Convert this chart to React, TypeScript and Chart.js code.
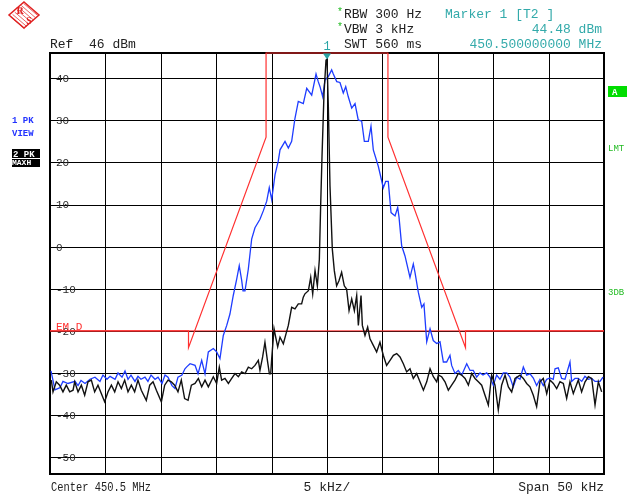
import { useEffect, useRef } from "react";
import { Chart, registerables } from "chart.js";

Chart.register(...registerables);

// Frequency offsets from centre (kHz), levels in dBm
const blueFreq = [
  -24.91, -24.55, -24.1, -23.83, -23.38, -22.74, -22.47, -22.2, -21.84, -21.39, -20.94, -20.49, -20.22, -19.86,
  -19.58, -19.13, -18.86, -18.5, -18.23, -17.96, -17.69, -17.33, -17.06, -16.79, -16.43, -16.16, -15.88, -15.52,
  -15.25, -14.89, -14.62, -14.35, -13.99, -13.72, -13.45, -13.09, -12.82, -12.64, -12.36, -11.91, -11.64, -11.31,
  -11.01, -10.71, -10.26, -9.96, -9.66, -9.36, -9.05, -8.76, -8.46, -8.15, -7.92, -7.7, -7.58, -7.4, -7.1, -6.8,
  -6.5, -6.05, -5.75, -5.44, -5.21, -4.99, -4.69, -4.4, -4.24, -3.79, -3.49, -3.19, -2.89, -2.59, -2.14, -1.83,
  -1.38, -0.99, -0.79, -0.63, -0.39, -0.18, 0.12, 0.42, 0.57, 0.88, 1.17, 1.47, 1.69, 1.92, 2.23, 2.53, 2.82, 3.13,
  3.37, 3.73, 3.97, 4.18, 4.63, 5.08, 5.3, 5.53, 5.78, 6.14, 6.38, 6.5, 6.74, 7.04, 7.49, 7.79, 7.94, 8.24, 8.55,
  8.75, 9.0, 9.3, 9.59, 9.9, 10.2, 10.5, 10.8, 11.1, 11.25, 11.55, 11.85, 12.16, 12.61, 12.91, 13.2, 13.51, 13.81,
  14.08, 14.41, 14.71, 15.01, 15.31, 15.61, 15.91, 16.22, 16.51, 16.81, 17.12, 17.42, 17.72, 18.02, 18.32, 18.62,
  18.92, 19.22, 19.52, 19.83, 20.13, 20.42, 20.58, 20.87, 21.18, 21.48, 21.93, 22.08, 22.38, 22.68, 22.99, 23.28,
  23.58, 23.89, 24.19, 24.64, 24.91,
];
const blueLevel = [
  -29.5, -34, -33.5, -32, -32.5, -32, -33, -31.8, -32.5, -31.5, -31, -32, -30.5, -31.5,
  -30.8, -31.5, -30, -31, -29.5, -31.5, -30.5, -32, -30.8, -31.5, -31, -32, -30.5, -31.5,
  -31, -32.5, -30.5, -31, -33, -33.7, -31, -30.5, -29, -28.5, -27.8, -28.2, -30.2, -27,
  -30.2, -25, -24.2, -25, -26.6, -21.1, -18.7, -16, -11.6, -7.7, -4.5, -8, -10.5, -10.5, -5.3, 1.8,
  4.5, 6.5, 8.5, 10.8, 14, 11.2, 17.1, 20.3, 23, 25, 23.4, 25, 30.5, 34.5, 34, 37.6,
  36, 41, 39.2, 38, 35.6, 39.6, 40.4, 42, 41, 39.2, 39, 36.5, 38, 35.6, 32.9, 34, 30.1, 29.8,
  25, 25, 28.6, 23, 19.1, 14, 15.5, 15.5, 8.1, 7.3, 9.3, 7, 0.2, -2.2, -7.3, -4.1, -6.1, -10.8, -14.4,
  -13.6, -22.6, -19.5, -22.3, -23, -22.6, -27.4, -27.4, -25.8, -28.2, -30.1, -29.4, -30.5, -27.8, -29.4, -29.4, -31, -30,
  -30.5, -30, -31, -32.9, -30.5, -31.5, -30, -30, -31, -33.3, -31, -31.5, -28.6, -30.5, -30.2, -31.2,
  -33, -31.5, -33, -31.5, -31.2, -31.5, -29, -28.8, -31.3, -31.5, -27.4, -32, -31.3, -31.3, -32, -30.8,
  -31.5, -31.3, -32, -32, -31,
];

const blackFreq = [
  -24.88, -24.73, -24.43, -24.13, -23.83, -23.53, -23.22, -22.92, -22.77, -22.47, -22.17, -21.87, -21.57, -21.27,
  -20.97, -20.67, -20.37, -20.07, -19.77, -19.46, -19.16, -18.86, -18.56, -18.26, -17.96, -17.66, -17.36, -17.06,
  -16.76, -16.31, -16.0, -15.7, -15.4, -14.95, -14.65, -14.35, -14.05, -13.75, -13.45, -13.15, -12.85, -12.54,
  -12.24, -11.91, -11.61, -11.31, -11.01, -10.71, -10.26, -9.96, -9.72, -9.51, -9.21, -8.9, -8.6, -8.3, -8.0,
  -7.7, -7.4, -7.1, -6.8, -6.5, -6.2, -6.05, -5.81, -5.6, -5.38, -5.2, -5.08, -4.99, -4.78, -4.6, -4.45, -4.24,
  -3.94, -3.7, -3.49, -3.19, -2.89, -2.59, -2.29, -2.14, -1.99, -1.68, -1.47, -1.29, -1.08, -0.87, -0.69, -0.57,
  -0.45, -0.27, -0.09, 0, 0.12, 0.27, 0.48, 0.66, 0.87, 1.08, 1.32, 1.56, 1.77, 1.99, 2.23, 2.47, 2.68, 2.83,
  3.07, 3.19, 3.43, 3.67, 3.88, 4.18, 4.48, 4.78, 5.08, 5.38, 5.69, 5.99, 6.29, 6.59, 6.89, 7.19, 7.49, 7.79,
  8.09, 8.39, 8.7, 9.0, 9.3, 9.6, 9.9, 10.05, 10.35, 10.65, 10.95, 11.25, 11.55, 11.85, 12.15, 12.46, 12.76,
  13.06, 13.36, 13.66, 13.96, 14.26, 14.56, 14.86, 15.16, 15.46, 15.76, 16.07, 16.37, 16.67, 16.97, 17.42,
  17.72, 18.02, 18.32, 18.62, 18.92, 19.22, 19.52, 19.83, 20.13, 20.43, 20.73, 21.03, 21.33, 21.63, 21.93,
  22.23, 22.68, 22.98, 23.29, 23.59, 23.89, 24.19, 24.49, 24.79,
];
const blackLevel = [
  -31.7, -34.5, -32.1, -32.9, -34.5, -32.9, -34.5, -34.1, -32.1, -34.5, -32.9, -35.3, -32.1, -31.7,
  -34.5, -32.9, -34.9, -36.85, -34.5, -32.9, -34.5, -32.1, -33.7, -31.7, -34.5, -32.9, -34.5, -31.7,
  -34.1, -36.5, -32.9, -32.1, -34.1, -36.85, -32.9, -31.7, -32.1, -32.9, -34.5, -31.7, -36.1, -36.5,
  -32.9, -32.5, -31.3, -33.3, -31.7, -33.3, -30.9, -32.5, -28.6, -31.7, -31.3, -32.5, -31.3, -30.15, -30.9,
  -29.75, -30.15, -28.6, -29.0, -28.2, -27.0, -29.4, -26.2, -22.7, -27.0, -30.2, -30.2, -26.6, -19.5, -21.9, -23.8, -21.5,
  -23.05, -20.7, -18.7, -14.4, -14.8, -13.6, -13.6, -12.0, -11.2, -10.45, -7.3, -11.2, -5.7, -9.3, -3.0, 10.0,
  21.5, 36.4, 44.3, 44.48, 33.3, 14.4, -0.6, -5.7, -9.3, -8.1, -6.1, -9.3, -10.05, -15.2, -12.4, -15.2, -11.6, -18.7,
  -11.6, -18.7, -21.1, -19.1, -21.9, -23.45, -25.0, -22.7, -25.8, -28.2, -27.0, -25.8, -25.4, -26.2, -27.8, -29.75, -29.0, -31.3,
  -30.15, -32.1, -34.1, -32.1, -29.0, -30.9, -32.1, -30.5, -30.9, -32.1, -34.1, -32.9, -31.7, -30.1, -30.5, -31.3, -32.9,
  -30.1, -31.3, -32.1, -32.9, -35.3, -37.6, -30.5, -32.9, -38.8, -32.9, -30.5, -33.3, -34.5, -31.3, -30.5,
  -31.3, -32.5, -33.3, -35.3, -38.0, -32.1, -31.3, -34.9, -31.7, -32.5, -33.7, -32.1, -32.5, -36.05, -32.1,
  -34.9, -31.7, -34.5, -32.1, -30.9, -31.3, -37.6, -32.1, -34.5,
];

const limitFreq = [-25, -12.5, -12.5, -5.5, -5.5, 5.5, 5.5, 12.5, 12.5, 25];
const limitLevel = [-20, -20, -24, 26, 46, 46, 26, -24, -20, -20];
const displayLine = -20;

const yTicks = [40, 30, 20, 10, 0, -10, -20, -30, -40, -50];
const xGrid = [-20, -15, -10, -5, 0, 5, 10, 15, 20];
const markerFreq = 0;
const markerLevel = 44.48;

const MONO = "'Liberation Mono', 'DejaVu Sans Mono', monospace";

export default function App() {
  const ref = useRef<HTMLCanvasElement | null>(null);

  useEffect(() => {
    document.body.style.margin = "0";
    const canvas = ref.current;
    if (!canvas) return;

    const gridPlugin = {
      id: "grid",
      beforeDatasetsDraw(chart: any) {
        const { ctx, chartArea: a, scales } = chart;
        ctx.save();
        ctx.strokeStyle = "#000";
        ctx.lineWidth = 1;
        xGrid.forEach((v) => {
          const x = Math.round(scales.x.getPixelForValue(v)) + 0.5;
          ctx.beginPath();
          ctx.moveTo(x, a.top);
          ctx.lineTo(x, a.bottom);
          ctx.stroke();
        });
        yTicks.forEach((v) => {
          const y = Math.round(scales.y.getPixelForValue(v)) + 0.5;
          ctx.beginPath();
          ctx.moveTo(a.left, y);
          ctx.lineTo(a.right, y);
          ctx.stroke();
        });
        ctx.lineWidth = 2;
        ctx.strokeRect(a.left, a.top, a.right - a.left, a.bottom - a.top);
        // tick labels inside plot
        ctx.fillStyle = "#2a2a2a";
        ctx.font = `11px ${MONO}`;
        ctx.textAlign = "left";
        ctx.textBaseline = "middle";
        yTicks.forEach((v) => {
          const y = scales.y.getPixelForValue(v);
          ctx.fillText(String(v), a.left + 6, y + 1);
        });
        ctx.restore();
      },
    };

    const overlayPlugin = {
      id: "overlay",
      afterDraw(chart: any) {
        const { ctx, chartArea: a, scales } = chart;
        ctx.save();
        // display line label
        ctx.fillStyle = "#ff3030";
        ctx.font = `11px ${MONO}`;
        ctx.textAlign = "left";
        ctx.textBaseline = "alphabetic";
        ctx.fillText("EM_D", a.left + 6, scales.y.getPixelForValue(displayLine) - 1);

        // marker
        const mx = scales.x.getPixelForValue(markerFreq);
        const my = scales.y.getPixelForValue(markerLevel);
        ctx.fillStyle = "#2aa5a5";
        ctx.beginPath();
        ctx.moveTo(mx - 4, my - 6);
        ctx.lineTo(mx + 4, my - 6);
        ctx.lineTo(mx, my);
        ctx.closePath();
        ctx.fill();
        ctx.font = `12px ${MONO}`;
        ctx.textAlign = "center";
        ctx.fillText("1", mx, a.top - 3);

        // header
        ctx.textAlign = "left";
        ctx.font = `13px ${MONO}`;
        ctx.fillStyle = "#222";
        ctx.fillText("Ref  46 dBm", 50, 48);
        ctx.fillText("RBW 300 Hz", 344, 18);
        ctx.fillText("VBW 3 kHz", 344, 33);
        ctx.fillText("SWT 560 ms", 344, 48);
        ctx.fillStyle = "#22bb22";
        ctx.font = `10px ${MONO}`;
        ctx.fillText("*", 337, 15);
        ctx.fillText("*", 337, 30);
        ctx.font = `13px ${MONO}`;
        ctx.fillStyle = "#33aaaa";
        ctx.fillText("Marker 1 [T2 ]", 445, 18);
        ctx.textAlign = "right";
        ctx.fillText("44.48 dBm", 602, 33);
        ctx.fillText("450.500000000 MHz", 602, 48);

        // footer
        ctx.fillStyle = "#222";
        ctx.textAlign = "left";
        ctx.font = `12px ${MONO}`;
        ctx.fillText("Center 450.5 MHz", 51, 491, 100);
        ctx.font = `13px ${MONO}`;
        ctx.textAlign = "center";
        ctx.fillText("5 kHz/", (a.left + a.right) / 2, 491);
        ctx.textAlign = "right";
        ctx.fillText("Span 50 kHz", a.right, 491);

        // left trace labels
        ctx.textAlign = "left";
        ctx.font = `bold 9px ${MONO}`;
        ctx.fillStyle = "#2233ff";
        ctx.fillText("1 PK", 12, 123);
        ctx.fillText("VIEW", 12, 136);
        ctx.fillStyle = "#000";
        ctx.fillRect(12, 149, 28, 9);
        ctx.fillRect(12, 159, 28, 8);
        ctx.fillStyle = "#fff";
        ctx.fillText("2 PK", 13, 157);
        ctx.font = `bold 8px ${MONO}`;
        ctx.fillText("MAXH", 12, 165);

        // right side labels
        ctx.fillStyle = "#00dd00";
        ctx.fillRect(608, 86, 19, 11);
        ctx.fillStyle = "#fff";
        ctx.font = `bold 9px ${MONO}`;
        ctx.fillText("A", 612, 95);
        ctx.fillStyle = "#22bb22";
        ctx.font = `9px ${MONO}`;
        ctx.fillText("LMT", 608, 151);
        ctx.fillText("3DB", 608, 295);

        // R&S logo
        ctx.translate(24, 15);
        ctx.strokeStyle = "#e02020";
        ctx.lineWidth = 1.5;
        ctx.beginPath();
        ctx.moveTo(0, -13);
        ctx.lineTo(15, 0);
        ctx.lineTo(0, 13);
        ctx.lineTo(-15, 0);
        ctx.closePath();
        ctx.stroke();
        ctx.lineWidth = 0.7;
        for (let k = -3; k <= 3; k++) {
          ctx.beginPath();
          ctx.moveTo(-7 + k * 2.2, -6 - k * 2.2 + 1);
          ctx.lineTo(7 + k * 2.2, 6 - k * 2.2 + 1);
          ctx.stroke();
        }
        ctx.fillStyle = "#e02020";
        ctx.font = `bold 10px 'Liberation Serif', serif`;
        ctx.textAlign = "center";
        ctx.fillText("R", -4, -1);
        ctx.fillText("S", 5, 9);
        ctx.restore();
      },
    };

    const chart = new Chart(canvas, {
      type: "line",
      data: {
        datasets: [
          {
            label: "Trace 2 PK MAXH",
            data: blackFreq.map((f, i) => ({ x: f, y: blackLevel[i] })),
            borderColor: "#111",
            borderWidth: 1.4,
            pointRadius: 0,
            order: 1,
          },
          {
            label: "Trace 1 PK VIEW",
            data: blueFreq.map((f, i) => ({ x: f, y: blueLevel[i] })),
            borderColor: "#1e3cff",
            borderWidth: 1.3,
            pointRadius: 0,
            order: 2,
          },
          {
            label: "Limit",
            data: limitFreq.map((f, i) => ({ x: f, y: limitLevel[i] })),
            borderColor: "#ff3030",
            borderWidth: 1.2,
            pointRadius: 0,
            order: 3,
            clip: 4,
          },
          {
            label: "D line",
            data: [
              { x: -25, y: displayLine },
              { x: 25, y: displayLine },
            ],
            borderColor: "#ff3030",
            borderWidth: 1,
            pointRadius: 0,
            order: 4,
          },
        ],
      },
      options: {
        animation: false,
        responsive: false,
        events: [],
        layout: { padding: { left: 50, top: 53, right: 23, bottom: 23 } },
        scales: {
          x: { type: "linear", min: -25, max: 25, display: false },
          y: { type: "linear", min: -54, max: 46, display: false },
        },
        elements: { line: { tension: 0 } },
        plugins: { legend: { display: false }, tooltip: { enabled: false } },
      },
      plugins: [gridPlugin, overlayPlugin],
    } as any);

    return () => chart.destroy();
  }, []);

  return <canvas ref={ref} width={627} height={497} style={{ display: "block", width: 627, height: 497 }} />;
}
